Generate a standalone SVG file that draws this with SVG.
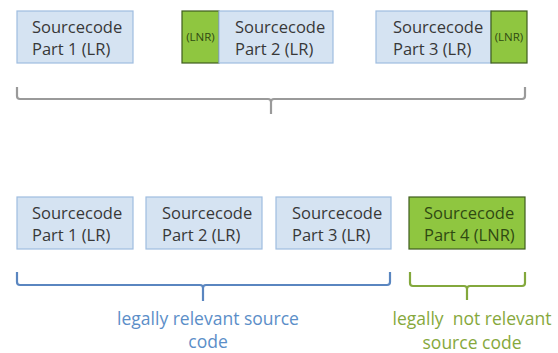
<svg xmlns="http://www.w3.org/2000/svg" width="558" height="353" viewBox="0 0 558 353">
<style>
.bg{fill:#ffffff}
.lr{fill:#d5e3f2;stroke:#9fbde0;stroke-width:1.2}
.lnr{fill:#8fc640;stroke:#3f5d1e;stroke-width:1.2}
.t{font-family:"Open Sans","Liberation Sans",sans-serif;font-size:16.5px;fill:#383838}
.tg{fill:#2f4a12}
.s{font-family:"Open Sans","Liberation Sans",sans-serif;font-size:11.5px;fill:#2f4a12;text-anchor:middle}
.br{fill:none;stroke-width:2.2;stroke-linejoin:round}
.gray{stroke:#9a9a9a}
.blue{stroke:#5a86c0}
.green{stroke:#83a83c}
.lbl{font-family:"Open Sans","Liberation Sans",sans-serif;font-size:17.5px;text-anchor:middle}
</style>
<rect class="bg" x="0" y="0" width="558" height="353"/>
<g id="top1">
<rect class="lr" x="17" y="11" width="116" height="52"/>
<text class="t" x="32" y="33">Sourcecode</text>
<text class="t" x="32" y="55">Part 1 (LR)</text>
</g>
<g id="top2">
<rect class="lnr" x="182" y="11" width="37" height="52"/>
<text class="s" x="200.5" y="41">(LNR)</text>
<rect class="lr" x="219" y="11" width="114" height="52"/>
<text class="t" x="235" y="33">Sourcecode</text>
<text class="t" x="235" y="55">Part 2 (LR)</text>
</g>
<g id="top3">
<rect class="lr" x="376" y="11" width="115" height="52"/>
<text class="t" x="393" y="33">Sourcecode</text>
<text class="t" x="393" y="55">Part 3 (LR)</text>
<rect class="lnr" x="491" y="11" width="36" height="52"/>
<text class="s" x="509" y="41">(LNR)</text>
</g>
<g id="bot1">
<rect class="lr" x="17" y="197" width="116" height="52"/>
<text class="t" x="32" y="219">Sourcecode</text>
<text class="t" x="32" y="241">Part 1 (LR)</text>
</g>
<g id="bot2">
<rect class="lr" x="146" y="197" width="116" height="52"/>
<text class="t" x="162" y="219">Sourcecode</text>
<text class="t" x="162" y="241">Part 2 (LR)</text>
</g>
<g id="bot3">
<rect class="lr" x="276" y="197" width="115" height="52"/>
<text class="t" x="292" y="219">Sourcecode</text>
<text class="t" x="292" y="241">Part 3 (LR)</text>
</g>
<g id="bot4">
<rect class="lnr" x="409" y="197" width="116" height="52"/>
<text class="t tg" x="424" y="219">Sourcecode</text>
<text class="t tg" x="424" y="241">Part 4 (LNR)</text>
</g>
<g id="connectors">
<path class="br gray" d="M17,87 V96 Q17,99 20,99 H268 Q271,99 271,102 V114 M271,102 Q271,99 274,99 H522 Q525,99 525,96 V87"/>
<path class="br blue" d="M17,272 V282 Q17,285 20,285 H200 Q203,285 203,288 V301 M203,288 Q203,285 206,285 H387 Q390,285 390,282 V272"/>
<path class="br green" d="M410,272 V283 Q410,286 413,286 H464 Q467,286 467,289 V300 M467,289 Q467,286 470,286 H522 Q525,286 525,283 V272"/>
</g>
<g id="labels">
<text class="lbl" fill="#5b8ec8" x="208" y="325">legally relevant source</text>
<text class="lbl" fill="#5b8ec8" x="208" y="348">code</text>
<text class="lbl" fill="#86a83c" x="472" y="325" xml:space="preserve">legally  not relevant</text>
<text class="lbl" fill="#86a83c" x="472" y="349">source code</text>
</g>
</svg>
